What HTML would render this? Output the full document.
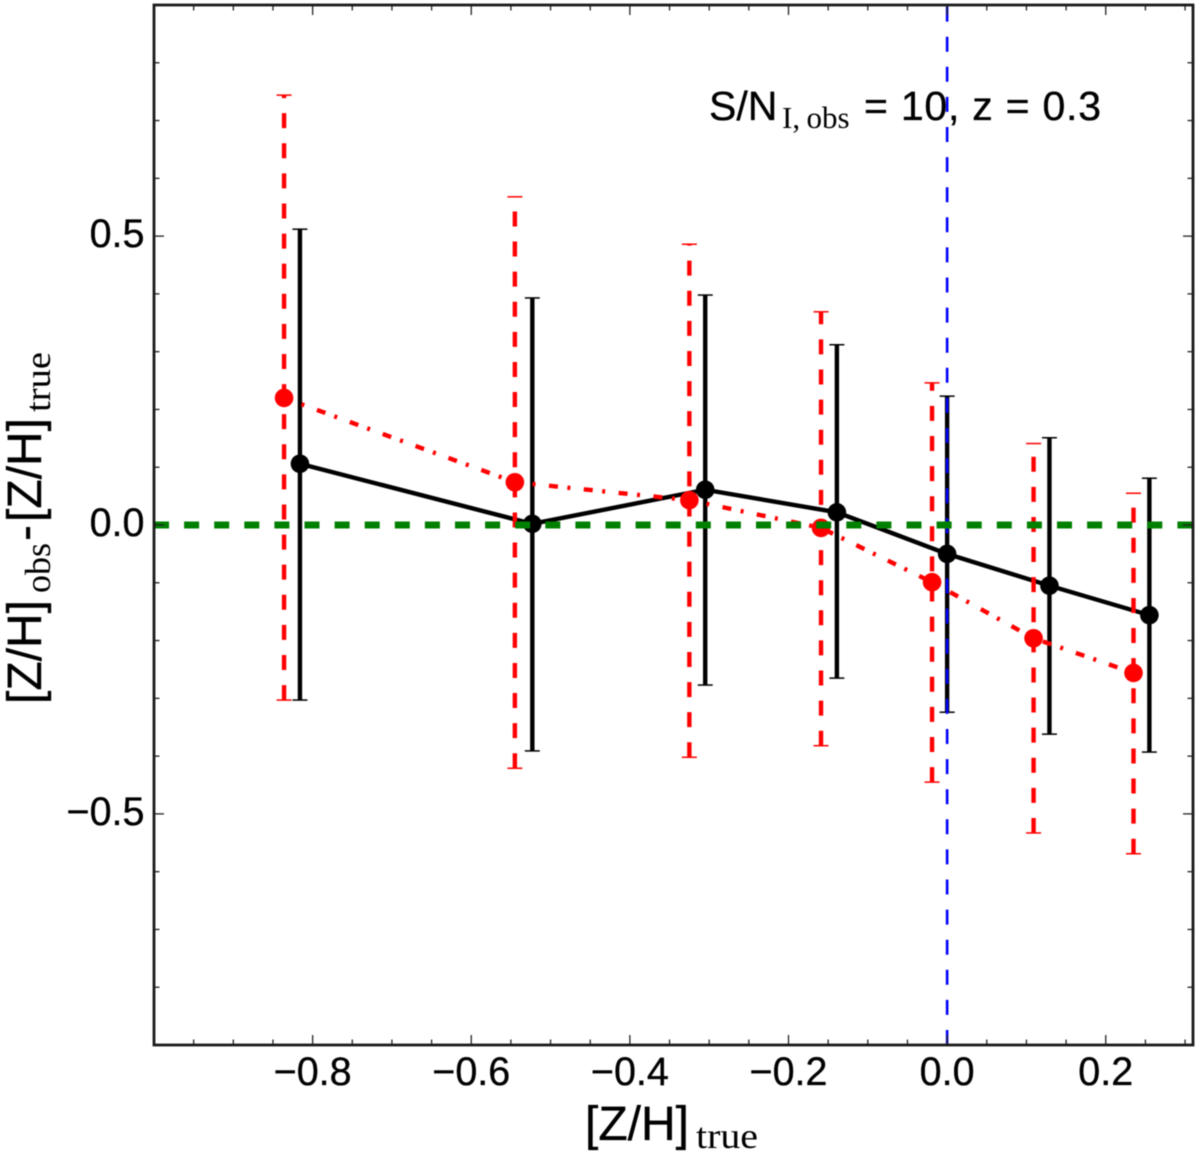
<!DOCTYPE html>
<html lang="en">
<head>
<meta charset="utf-8">
<title>[Z/H] offset chart</title>
<style>
html,body{margin:0;padding:0;background:#fff;}
svg{display:block;filter:blur(0.4px);}
.sans{font-family:"Liberation Sans",Arial,sans-serif;fill:#000;stroke:#000;stroke-width:0.35px;}
.serif{font-family:"Liberation Serif","Times New Roman",serif;fill:#000;}
</style>
</head>
<body>
<svg id="chart" xmlns="http://www.w3.org/2000/svg" width="1200" height="1156" viewBox="0 0 1200 1156">
  <rect x="0" y="0" width="1200" height="1156" fill="#fff"/>
  <g id="marks"></g>
  <g id="axes"></g>
  <g id="tick-labels"></g>

  <g>
    <text class="sans" x="709" y="120" font-size="41">S/N</text>
    <text class="serif" x="782" y="128" font-size="31">I,</text>
    <text class="serif" x="806.5" y="128" font-size="31">obs</text>
    <text class="sans" x="864" y="120" font-size="41" textLength="237" lengthAdjust="spacing">= 10, z = 0.3</text>
  </g>

  <g>
    <text class="sans" x="585" y="1140" font-size="48">[Z/H]</text>
    <text class="serif" x="696" y="1148" font-size="36" textLength="62" lengthAdjust="spacingAndGlyphs">true</text>
  </g>

  <g>
    <text class="sans" transform="translate(41,704) rotate(-90)" font-size="48">[Z/H]</text>
    <text class="serif" transform="translate(50,593) rotate(-90)" font-size="36" textLength="50" lengthAdjust="spacingAndGlyphs">obs</text>
    <text class="sans" transform="translate(41,541) rotate(-90)" font-size="48">-</text>
    <text class="sans" transform="translate(41,522) rotate(-90)" font-size="48">[Z/H]</text>
    <text class="serif" transform="translate(50,412) rotate(-90)" font-size="36" textLength="60" lengthAdjust="spacingAndGlyphs">true</text>
  </g>
</svg>

<script>
// Chart data
const blackX = [-0.816, -0.523, -0.305, -0.139, 0.000, 0.129, 0.255];
const blackY = [0.106, 0.002, 0.061, 0.022, -0.050, -0.105, -0.156];
const blackHigh = [0.512, 0.393, 0.398, 0.312, 0.223, 0.151, 0.081];
const blackLow = [-0.303, -0.391, -0.277, -0.265, -0.324, -0.362, -0.393];

const redX = [-0.836, -0.545, -0.325, -0.159, -0.019, 0.109, 0.235];
const redY = [0.220, 0.074, 0.043, -0.005, -0.099, -0.196, -0.256];
const redHigh = [0.744, 0.568, 0.486, 0.369, 0.246, 0.141, 0.055];
const redLow = [-0.303, -0.421, -0.402, -0.382, -0.445, -0.533, -0.569];

const xMajorTicks = [-0.8, -0.6, -0.4, -0.2, 0.0, 0.2];
const xMinorTicks = [-0.95, -0.9, -0.85, -0.75, -0.7, -0.65, -0.55, -0.5, -0.45, -0.35, -0.3, -0.25, -0.15, -0.1, -0.05, 0.05, 0.1, 0.15, 0.25, 0.3];
const xTickLabels = ['\u22120.8', '\u22120.6', '\u22120.4', '\u22120.2', '0.0', '0.2'];
const yMajorTicks = [0.5, 0.0, -0.5];
const yMinorTicks = [0.8, 0.7, 0.6, 0.4, 0.3, 0.2, 0.1, -0.1, -0.2, -0.3, -0.4, -0.6, -0.7, -0.8];
const yTickLabels = ['0.5', '0.0', '\u22120.5'];
const xDomain = [-1.0, 0.31];
const yDomain = [-0.9, 0.9];
const referenceX = 0;
const referenceY = 0;

const NS = 'http://www.w3.org/2000/svg';
const plotLeft = 154, plotRight = 1193, plotTop = 5, plotBottom = 1045;
const xScale = v => plotLeft + (v - xDomain[0]) / (xDomain[1] - xDomain[0]) * (plotRight - plotLeft);
const yScale = v => plotBottom - (v - yDomain[0]) / (yDomain[1] - yDomain[0]) * (plotBottom - plotTop);

function make(parent, tag, attrs) {
  const el = document.createElementNS(NS, tag);
  for (const k in attrs) el.setAttribute(k, attrs[k]);
  parent.appendChild(el);
  return el;
}

const marks = document.getElementById('marks');
const axes = document.getElementById('axes');
const labels = document.getElementById('tick-labels');

function drawErrorBars(xs, highs, lows, color, dash, seriesName) {
  xs.forEach((v, i) => {
    const px = xScale(v);
    const bar = make(marks, 'line', {x1: px, x2: px, y1: yScale(lows[i]), y2: yScale(highs[i]), stroke: color, 'stroke-width': 4.4, 'stroke-dasharray': dash});
    
    
    [highs[i], lows[i]].forEach(c => {
      const cap = make(marks, 'line', {x1: px - 7.5, x2: px + 7.5, y1: yScale(c), y2: yScale(c), stroke: color, 'stroke-width': 1.5});
      
      
    });
  });
}

function drawLine(xs, ys, color, width, dash, seriesName) {
  const pts = xs.map((v, i) => xScale(v) + ',' + yScale(ys[i])).join(' ');
  const line = make(marks, 'polyline', {points: pts, fill: 'none', stroke: color, 'stroke-width': width, 'stroke-dasharray': dash, 'stroke-linejoin': 'round'});
  
  
}

function drawPoints(xs, ys, color, seriesName) {
  xs.forEach((v, i) => {
    const dot = make(marks, 'circle', {cx: xScale(v), cy: yScale(ys[i]), r: 9.3, fill: color});
    
    
  });
}

// Black series, underneath
drawErrorBars(blackX, blackHigh, blackLow, '#000', 'none', 'black-series');

// Blue vertical reference, drawn from the bottom up
const blueLine = make(marks, 'line', {x1: xScale(referenceX), x2: xScale(referenceX), y1: plotBottom, y2: plotTop, stroke: '#0000ff', 'stroke-width': 2.6, 'stroke-dasharray': '15 15.1'});



drawLine(blackX, blackY, '#000', 4.4, 'none', 'black-series');
drawPoints(blackX, blackY, '#000', 'black-series');

// Red series
drawErrorBars(redX, redHigh, redLow, '#ff0000', '15 15.1', 'red-series');
drawLine(redX, redY, '#ff0000', 4.4, '9 9.5 3 13.5', 'red-series');
drawPoints(redX, redY, '#ff0000', 'red-series');

// Green horizontal reference on top
const greenLine = make(marks, 'line', {x1: plotLeft, x2: plotRight, y1: yScale(referenceY), y2: yScale(referenceY), stroke: '#008000', 'stroke-width': 7, 'stroke-dasharray': '15 15.1'});



// Ticks on all four sides
function drawXTick(v, len, w, tickName) {
  const px = xScale(v);
  const b = make(axes, 'line', {x1: px, x2: px, y1: plotBottom, y2: plotBottom - len, stroke: '#222', 'stroke-width': w});
  
  
  const t = make(axes, 'line', {x1: px, x2: px, y1: plotTop, y2: plotTop + len, stroke: '#222', 'stroke-width': w});
  
  
}
function drawYTick(v, len, w, tickName) {
  const py = yScale(v);
  const l = make(axes, 'line', {x1: plotLeft, x2: plotLeft + len, y1: py, y2: py, stroke: '#222', 'stroke-width': w});
  
  
  const r = make(axes, 'line', {x1: plotRight, x2: plotRight - len, y1: py, y2: py, stroke: '#222', 'stroke-width': w});
  
  
}
xMajorTicks.forEach(v => drawXTick(v, 10, 1.3, 'x-major-tick'));
xMinorTicks.forEach(v => drawXTick(v, 5.5, 1.3, 'x-minor-tick'));
yMajorTicks.forEach(v => drawYTick(v, 10, 1.3, 'y-major-tick'));
yMinorTicks.forEach(v => drawYTick(v, 5.5, 1.3, 'y-minor-tick'));

// Frame
const frame = make(axes, 'rect', {x: plotLeft, y: plotTop, width: plotRight - plotLeft, height: plotBottom - plotTop, fill: 'none', stroke: '#1a1a1a', 'stroke-width': 2.8});



// Tick labels
xMajorTicks.forEach((v, i) => {
  const t = make(labels, 'text', {x: xScale(v), y: 1085, 'text-anchor': 'middle', 'font-size': 39.5, class: 'sans'});
  
  
  t.textContent = xTickLabels[i];
});
yMajorTicks.forEach((v, i) => {
  const t = make(labels, 'text', {x: 144.5, y: yScale(v) + 11, 'text-anchor': 'end', 'font-size': 39.5, class: 'sans'});
  
  
  t.textContent = yTickLabels[i];
});
</script>
</body>
</html>
